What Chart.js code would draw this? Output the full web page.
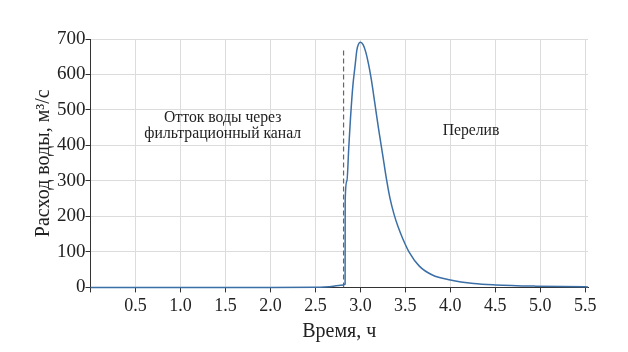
<!DOCTYPE html>
<html>
<head>
<meta charset="utf-8">
<script src="https://cdn.jsdelivr.net/npm/chart.js@4.4.1/dist/chart.umd.min.js"></script>
<style>
  html, body { margin: 0; padding: 0; background: #fff; }
  #wrap { width: 628px; height: 352px; }
</style>
</head>
<body>
<div id="wrap"><canvas id="flowChart" width="628" height="352"></canvas></div>
<script>
// time, h
const timeH = [0, 0.5, 1.0, 1.5, 2.0, 2.5, 2.6, 2.7, 2.78, 2.83, 2.831, 2.85, 2.87, 2.89,
    2.917, 2.942, 2.961, 2.98, 3.0, 3.03, 3.06, 3.09, 3.12, 3.16, 3.2, 3.25, 3.29,
    3.33, 3.375, 3.42, 3.47, 3.545, 3.655, 3.8, 4.0, 4.26, 4.5, 4.95, 5.5, 5.53];
// discharge, m3/s
const flow = [0, 0, 0, 0, 0, 0.3, 1, 3, 6, 9, 245, 300, 390, 477,
    570, 627, 669, 686, 691, 684, 663, 630, 588, 520, 450, 370, 305,
    250, 205, 170, 138, 98, 60, 35, 21, 11, 7, 3.5, 1.5, 1.3];

// dashed marker line
const markerX = [2.813, 2.813];
const markerY = [0, 673];

const xTicks = [0, 0.5, 1.0, 1.5, 2.0, 2.5, 3.0, 3.5, 4.0, 4.5, 5.0, 5.5];
const yTicks = [0, 100, 200, 300, 400, 500, 600, 700];

const notes = [
    { x: 1.47, y: 478, lines: ['Отток воды через', 'фильтрационный канал'] },
    { x: 4.23, y: 441, lines: ['Перелив'] }
];

const serif = "'Liberation Serif', 'DejaVu Serif', serif";

const notesPlugin = {
    id: 'notes',
    afterDatasetsDraw(chart) {
        const ctx = chart.ctx;
        const xs = chart.scales.x, ys = chart.scales.y;
        ctx.save();
        ctx.font = '15.7px ' + serif;
        ctx.fillStyle = '#222';
        ctx.textAlign = 'center';
        ctx.textBaseline = 'middle';
        notes.forEach(n => {
            const px = xs.getPixelForValue(n.x);
            const py = ys.getPixelForValue(n.y);
            n.lines.forEach((s, i) => ctx.fillText(s, px, py + i * 16));
        });
        ctx.restore();
    }
};

new Chart(document.getElementById('flowChart'), {
    type: 'line',
    data: {
        datasets: [{
            data: timeH.map((t, i) => ({ x: t, y: flow[i] })),
            borderColor: '#3b6fa6',
            borderWidth: 1.5,
            pointRadius: 0,
            cubicInterpolationMode: 'monotone',
            clip: 4
        }, {
            data: markerX.map((t, i) => ({ x: t, y: markerY[i] })),
            borderColor: '#666',
            borderWidth: 1.2,
            borderDash: [5, 3],
            pointRadius: 0
        }]
    },
    options: {
        responsive: false,
        animation: false,
        layout: { padding: { left: 31, right: 40, top: 39, bottom: 8 } },
        plugins: { legend: { display: false }, tooltip: { enabled: false } },
        scales: {
            x: {
                type: 'linear',
                min: 0,
                max: 5.53,
                afterBuildTicks: (axis) => { axis.ticks = xTicks.map(v => ({ value: v })); },
                ticks: {
                    font: { family: serif, size: 18 },
                    color: '#222',
                    maxRotation: 0,
                    padding: 3,
                    callback: (v) => v === 0 ? '' : v.toFixed(1)
                },
                grid: { color: '#dcdcdc', tickColor: '#333', tickLength: 5 },
                border: { color: '#333' },
                title: {
                    display: true,
                    text: 'Время, ч',
                    font: { family: serif, size: 20 },
                    color: '#222',
                    padding: 0
                }
            },
            y: {
                min: 0,
                max: 700,
                afterBuildTicks: (axis) => { axis.ticks = yTicks.map(v => ({ value: v })); },
                ticks: {
                    font: { family: serif, size: 19 },
                    color: '#222',
                    padding: 0
                },
                grid: { color: '#dcdcdc', tickColor: '#333', tickLength: 5 },
                border: { color: '#333' },
                title: {
                    display: true,
                    text: 'Расход воды, м³/с',
                    font: { family: serif, size: 20 },
                    color: '#222',
                    padding: 1
                }
            }
        }
    },
    plugins: [notesPlugin]
});
</script>
</body>
</html>
